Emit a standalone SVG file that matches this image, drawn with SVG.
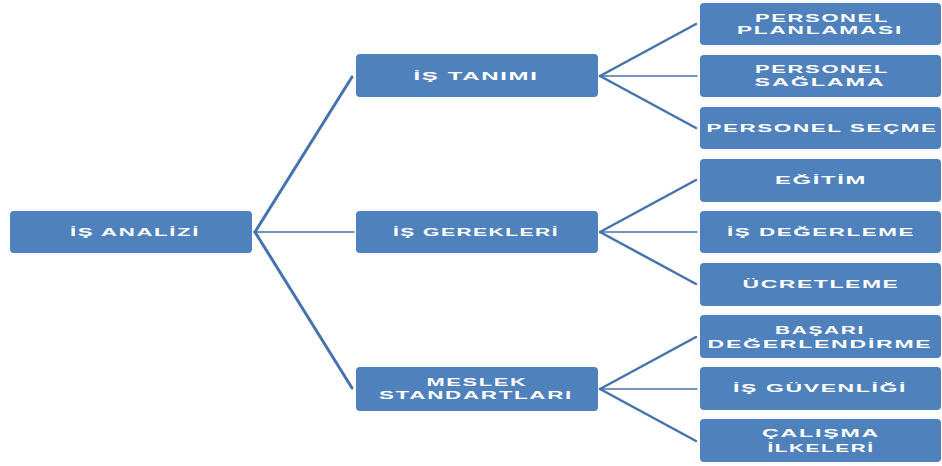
<svg xmlns="http://www.w3.org/2000/svg" width="942" height="466" viewBox="0 0 942 466">
  <style>
    .box { fill: #4f81bd; }
    .lbl { fill: #ffffff; font-family: "Liberation Sans", Arial, sans-serif; font-weight: bold; font-size: 11.5px; text-anchor: middle; letter-spacing: 0.8px; }
    .two { font-size: 10.5px; }
    .link { stroke: #4473ae; fill: none; stroke-linecap: round; }
    .thick { stroke-width: 3; }
    .mid { stroke-width: 2.5; }
    .thin { stroke-width: 1.5; }
  </style>
  <rect width="942" height="466" fill="#ffffff"/>

  <!-- connectors -->
  <g id="connectors">
    <line class="link thick" x1="255" y1="232" x2="352" y2="77"/>
    <line class="link thin" x1="255" y1="232" x2="354" y2="232"/>
    <line class="link thick" x1="255" y1="232" x2="352" y2="388"/>

    <line class="link mid" x1="600" y1="76" x2="696" y2="24"/>
    <line class="link thin" x1="600" y1="76" x2="697" y2="76"/>
    <line class="link mid" x1="600" y1="76" x2="696" y2="128"/>

    <line class="link mid" x1="600" y1="232" x2="696" y2="180"/>
    <line class="link thin" x1="600" y1="232" x2="697" y2="232"/>
    <line class="link mid" x1="600" y1="232" x2="696" y2="284"/>

    <line class="link mid" x1="600" y1="389" x2="696" y2="337"/>
    <line class="link thin" x1="600" y1="389" x2="697" y2="389"/>
    <line class="link mid" x1="600" y1="389" x2="696" y2="441"/>
  </g>

  <!-- root -->
  <g id="is-analizi">
    <rect class="box" x="10" y="211" width="242" height="42" rx="4"/>
    <text class="lbl" x="135" y="236" textLength="130" lengthAdjust="spacingAndGlyphs">İŞ ANALİZİ</text>
  </g>

  <!-- second level -->
  <g id="is-tanimi">
    <rect class="box" x="356" y="54" width="242" height="43" rx="4"/>
    <text class="lbl" x="476" y="80" textLength="125" lengthAdjust="spacingAndGlyphs">İŞ TANIMI</text>
  </g>
  <g id="is-gerekleri">
    <rect class="box" x="356" y="211" width="242" height="42" rx="4"/>
    <text class="lbl" x="476" y="236" textLength="166" lengthAdjust="spacingAndGlyphs">İŞ GEREKLERİ</text>
  </g>
  <g id="meslek-standartlari">
    <rect class="box" x="356" y="367" width="242" height="44" rx="4"/>
    <text class="lbl two" x="477" y="386" textLength="101" lengthAdjust="spacingAndGlyphs">MESLEK</text>
    <text class="lbl two" x="476" y="399" textLength="194" lengthAdjust="spacingAndGlyphs">STANDARTLARI</text>
  </g>

  <!-- third level -->
  <g id="personel-planlamasi">
    <rect class="box" x="700" y="3" width="241" height="42" rx="4"/>
    <text class="lbl two" x="822" y="22" textLength="134" lengthAdjust="spacingAndGlyphs">PERSONEL</text>
    <text class="lbl two" x="820" y="34" textLength="166" lengthAdjust="spacingAndGlyphs">PLANLAMASI</text>
  </g>
  <g id="personel-saglama">
    <rect class="box" x="700" y="55" width="241" height="42" rx="4"/>
    <text class="lbl two" x="822" y="73" textLength="134" lengthAdjust="spacingAndGlyphs">PERSONEL</text>
    <text class="lbl two" x="820" y="86" textLength="131" lengthAdjust="spacingAndGlyphs">SAĞLAMA</text>
  </g>
  <g id="personel-secme">
    <rect class="box" x="700" y="107" width="241" height="42" rx="4"/>
    <text class="lbl" x="822" y="132" textLength="231" lengthAdjust="spacingAndGlyphs">PERSONEL SEÇME</text>
  </g>
  <g id="egitim">
    <rect class="box" x="700" y="159" width="241" height="43" rx="4"/>
    <text class="lbl" x="821" y="184" textLength="92" lengthAdjust="spacingAndGlyphs">EĞİTİM</text>
  </g>
  <g id="is-degerleme">
    <rect class="box" x="700" y="211" width="241" height="42" rx="4"/>
    <text class="lbl" x="821" y="236" textLength="188" lengthAdjust="spacingAndGlyphs">İŞ DEĞERLEME</text>
  </g>
  <g id="ucretleme">
    <rect class="box" x="700" y="263" width="241" height="43" rx="4"/>
    <text class="lbl" x="821" y="288" textLength="157" lengthAdjust="spacingAndGlyphs">ÜCRETLEME</text>
  </g>
  <g id="basari-degerlendirme">
    <rect class="box" x="700" y="315" width="241" height="43" rx="4"/>
    <text class="lbl two" x="820" y="334" textLength="90" lengthAdjust="spacingAndGlyphs">BAŞARI</text>
    <text class="lbl two" x="820" y="348" textLength="225" lengthAdjust="spacingAndGlyphs">DEĞERLENDİRME</text>
  </g>
  <g id="is-guvenligi">
    <rect class="box" x="700" y="367" width="241" height="43" rx="4"/>
    <text class="lbl" x="820" y="392" textLength="174" lengthAdjust="spacingAndGlyphs">İŞ GÜVENLİĞİ</text>
  </g>
  <g id="calisma-ilkeleri">
    <rect class="box" x="700" y="419" width="241" height="43" rx="4"/>
    <text class="lbl two" x="821" y="437" textLength="118" lengthAdjust="spacingAndGlyphs">ÇALIŞMA</text>
    <text class="lbl two" x="821" y="452" textLength="107" lengthAdjust="spacingAndGlyphs">İLKELERİ</text>
  </g>
</svg>
